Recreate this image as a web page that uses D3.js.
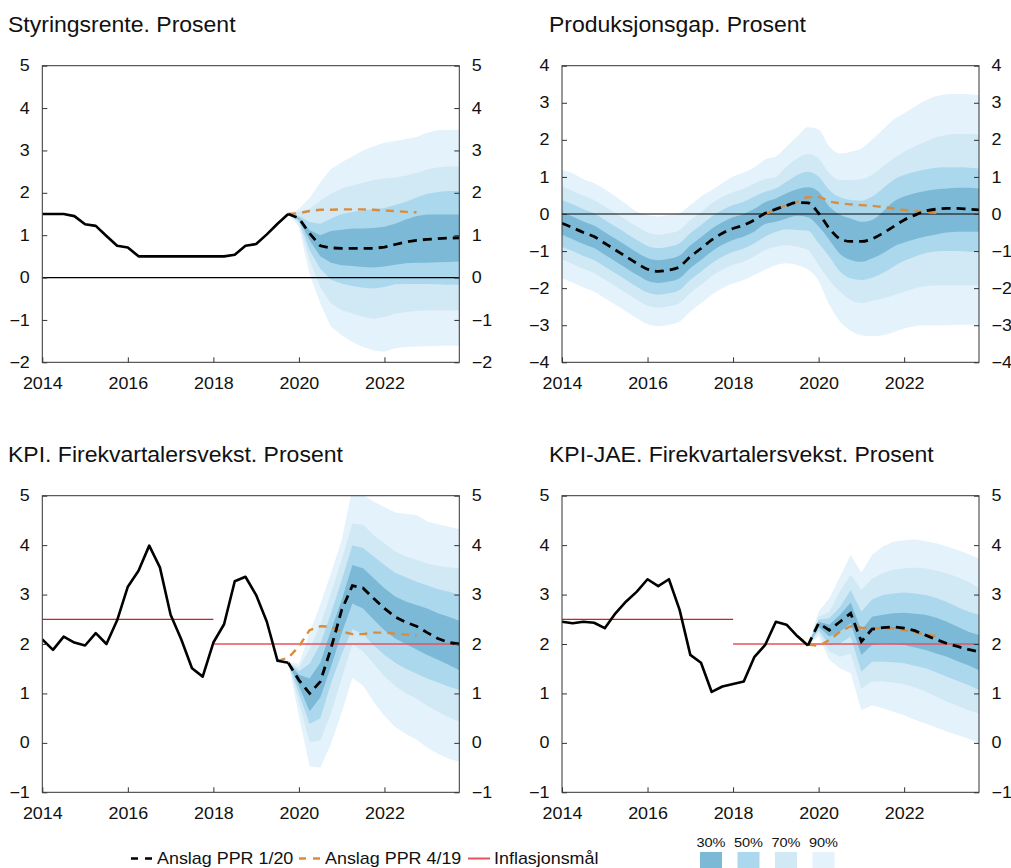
<!DOCTYPE html>
<html>
<head>
<meta charset="utf-8">
<script src="https://cdn.jsdelivr.net/npm/d3@7"></script>
<style>
  body { margin: 0; background: #fff; }
  svg text { font-family: "Liberation Sans", Arial, sans-serif; fill: #111; }
</style>
</head>
<body>
<div class="chart"></div>
<script>

// ===============================
// Data
// ===============================

const quarters = [
    "2014K1", "2014K2", "2014K3", "2014K4", "2015K1", "2015K2", "2015K3", "2015K4",
    "2016K1", "2016K2", "2016K3", "2016K4", "2017K1", "2017K2", "2017K3", "2017K4",
    "2018K1", "2018K2", "2018K3", "2018K4", "2019K1", "2019K2", "2019K3", "2019K4",
    "2020K1", "2020K2", "2020K3", "2020K4", "2021K1", "2021K2", "2021K3", "2021K4",
    "2022K1", "2022K2", "2022K3", "2022K4", "2023K1", "2023K2", "2023K3", "2023K4"
];

const yearTicks = [2014, 2016, 2018, 2020, 2022];

// Styringsrente (history from 2014K1, forecasts from 2019K4)
const rateHist = [1.5, 1.5, 1.5, 1.45, 1.26, 1.22, 0.98, 0.75, 0.71, 0.5, 0.5, 0.5,
    0.5, 0.5, 0.5, 0.5, 0.5, 0.5, 0.54, 0.75, 0.79, 1.02, 1.27, 1.5];
const rateMed = [1.5, 1.4, 1.04, 0.75, 0.7, 0.69, 0.69, 0.69, 0.69, 0.72, 0.78, 0.84, 0.88, 0.9, 0.92, 0.93, 0.94];
const rateOld = [1.5, 1.52, 1.57, 1.6, 1.6, 1.61, 1.61, 1.61, 1.6, 1.58, 1.57, 1.55, 1.54];
const rateHi90 = [1.5, 1.62, 1.88, 2.25, 2.56, 2.72, 2.86, 3.0, 3.1, 3.18, 3.22, 3.27, 3.32, 3.42, 3.48, 3.49, 3.48];
const rateHi70 = [1.5, 1.56, 1.62, 1.82, 1.98, 2.1, 2.17, 2.24, 2.3, 2.34, 2.36, 2.4, 2.47, 2.55, 2.6, 2.62, 2.62];
const rateHi50 = [1.5, 1.45, 1.31, 1.27, 1.39, 1.5, 1.55, 1.59, 1.61, 1.64, 1.71, 1.79, 1.89, 1.98, 2.02, 2.04, 2.04];
const rateHi30 = [1.5, 1.42, 1.12, 1.0, 1.1, 1.13, 1.16, 1.16, 1.17, 1.2, 1.27, 1.37, 1.45, 1.49, 1.49, 1.49, 1.49];
const rateLo30 = [1.5, 1.37, 0.88, 0.5, 0.35, 0.29, 0.27, 0.25, 0.24, 0.26, 0.3, 0.34, 0.35, 0.35, 0.36, 0.37, 0.38];
const rateLo50 = [1.5, 1.33, 0.65, 0.21, -0.05, -0.14, -0.2, -0.24, -0.26, -0.22, -0.16, -0.15, -0.15, -0.15, -0.16, -0.17, -0.17];
const rateLo70 = [1.5, 1.28, 0.41, -0.22, -0.61, -0.77, -0.85, -0.93, -0.97, -0.93, -0.85, -0.81, -0.79, -0.78, -0.77, -0.77, -0.77];
const rateLo90 = [1.5, 1.2, 0.09, -0.61, -1.16, -1.36, -1.52, -1.64, -1.72, -1.75, -1.67, -1.64, -1.63, -1.62, -1.61, -1.61, -1.61];

// Produksjonsgap (all from 2014K1, old forecast from 2018K4)
const gapMed = [-0.25, -0.37, -0.5, -0.61, -0.79, -0.97, -1.15, -1.33, -1.49, -1.55, -1.51, -1.42, -1.15, -0.93, -0.7, -0.52,
    -0.39, -0.3, -0.16, 0.02, 0.13, 0.23, 0.31, 0.3, 0.02, -0.39, -0.67, -0.74, -0.74, -0.67, -0.52, -0.34,
    -0.16, -0.03, 0.08, 0.13, 0.15, 0.15, 0.13, 0.11];
const gapOld = [0.0, 0.12, 0.24, 0.33, 0.45, 0.46, 0.34, 0.29, 0.26, 0.24, 0.22, 0.19, 0.15, 0.11, 0.08, 0.05, 0.03];
const gapHi90 = [1.19, 1.1, 0.94, 0.83, 0.67, 0.47, 0.27, 0.06, -0.03, -0.07, -0.03, 0.02, 0.24, 0.47, 0.65, 0.83,
    1.01, 1.12, 1.26, 1.47, 1.55, 1.82, 2.09, 2.34, 2.28, 1.82, 1.63, 1.68, 1.77, 2.0, 2.27, 2.54,
    2.72, 2.9, 3.06, 3.18, 3.23, 3.24, 3.23, 3.2];
const gapHi70 = [0.75, 0.62, 0.49, 0.38, 0.2, 0.02, -0.16, -0.34, -0.5, -0.56, -0.52, -0.43, -0.17, 0.05, 0.28, 0.46,
    0.59, 0.68, 0.82, 0.94, 1.0, 1.28, 1.5, 1.62, 1.5, 1.1, 0.92, 0.92, 0.94, 1.05, 1.28, 1.5,
    1.68, 1.82, 1.95, 2.07, 2.13, 2.16, 2.16, 2.13];
const gapHi50 = [0.38, 0.26, 0.13, 0.02, -0.16, -0.34, -0.52, -0.7, -0.86, -0.92, -0.88, -0.79, -0.52, -0.3, -0.07, 0.11,
    0.24, 0.33, 0.47, 0.6, 0.69, 0.87, 1.05, 1.14, 1.01, 0.65, 0.45, 0.38, 0.36, 0.47, 0.69, 0.92,
    1.05, 1.14, 1.2, 1.25, 1.26, 1.26, 1.25, 1.23];
const gapHi30 = [0.05, -0.07, -0.2, -0.31, -0.49, -0.67, -0.85, -1.03, -1.19, -1.25, -1.21, -1.12, -0.85, -0.63, -0.4, -0.22,
    -0.09, 0.0, 0.14, 0.32, 0.42, 0.56, 0.67, 0.72, 0.6, 0.2, -0.02, -0.12, -0.21, -0.16, 0.06, 0.33,
    0.47, 0.56, 0.62, 0.67, 0.69, 0.71, 0.71, 0.69];
const gapLo30 = [-0.56, -0.68, -0.81, -0.92, -1.1, -1.28, -1.46, -1.64, -1.8, -1.86, -1.82, -1.73, -1.46, -1.24, -1.01, -0.83,
    -0.7, -0.61, -0.47, -0.27, -0.21, -0.12, -0.05, -0.09, -0.34, -0.7, -1.08, -1.24, -1.29, -1.2, -1.06, -0.88,
    -0.77, -0.68, -0.61, -0.55, -0.5, -0.48, -0.48, -0.48];
const gapLo50 = [-0.88, -1.0, -1.13, -1.24, -1.42, -1.6, -1.78, -1.96, -2.12, -2.18, -2.14, -2.05, -1.78, -1.56, -1.33, -1.15,
    -1.02, -0.93, -0.79, -0.61, -0.48, -0.41, -0.43, -0.45, -0.79, -1.15, -1.55, -1.74, -1.78, -1.72, -1.59, -1.42,
    -1.26, -1.15, -1.05, -1.01, -1.0, -1.0, -1.02, -1.03];
const gapLo70 = [-1.23, -1.35, -1.48, -1.59, -1.77, -1.95, -2.13, -2.31, -2.47, -2.53, -2.49, -2.4, -2.13, -1.91, -1.68, -1.5,
    -1.37, -1.28, -1.14, -0.97, -0.88, -0.84, -0.88, -0.97, -1.38, -1.78, -2.09, -2.32, -2.4, -2.34, -2.28, -2.19,
    -2.1, -2.0, -1.95, -1.93, -1.92, -1.92, -1.92, -1.92];
const gapLo90 = [-1.73, -1.85, -1.98, -2.09, -2.27, -2.45, -2.63, -2.81, -2.97, -3.03, -2.99, -2.9, -2.63, -2.41, -2.18, -2.0,
    -1.87, -1.78, -1.64, -1.5, -1.38, -1.33, -1.38, -1.5, -1.8, -2.45, -2.9, -3.15, -3.27, -3.3, -3.27, -3.19,
    -3.09, -3.03, -3.0, -3.0, -3.0, -2.99, -2.99, -2.99];

// KPI (history from 2014K1, forecasts from 2019K4, old forecast from 2019K3)
const cpiHist = [2.09, 1.88, 2.15, 2.03, 1.97, 2.22, 2.0, 2.48, 3.16, 3.48, 3.99, 3.55,
    2.59, 2.09, 1.51, 1.34, 2.03, 2.4, 3.27, 3.36, 2.99, 2.45, 1.66, 1.62];
const cpiMed = [1.62, 1.27, 1.0, 1.24, 1.91, 2.69, 3.18, 3.13, 2.92, 2.72, 2.55, 2.44, 2.36, 2.23, 2.11, 2.03, 2.0];
const cpiOld = [1.66, 1.72, 1.95, 2.28, 2.36, 2.35, 2.25, 2.2, 2.2, 2.23, 2.23, 2.21, 2.19, 2.17];
const cpiHi90 = [1.62, 1.6, 2.22, 2.8, 3.43, 4.1, 5.15, 5.02, 4.88, 4.77, 4.66, 4.63, 4.61, 4.48, 4.42, 4.37, 4.32];
const cpiHi70 = [1.62, 1.52, 1.9, 2.38, 3.02, 3.7, 4.44, 4.41, 4.2, 4.04, 3.87, 3.77, 3.7, 3.63, 3.58, 3.55, 3.53];
const cpiHi50 = [1.62, 1.45, 1.6, 2.0, 2.62, 3.29, 4.0, 3.94, 3.77, 3.6, 3.44, 3.35, 3.26, 3.19, 3.11, 3.06, 2.99];
const cpiHi30 = [1.62, 1.38, 1.3, 1.62, 2.28, 2.89, 3.6, 3.53, 3.33, 3.13, 2.96, 2.86, 2.79, 2.72, 2.62, 2.55, 2.47];
const cpiLo30 = [1.62, 1.15, 0.64, 0.92, 1.54, 2.22, 2.82, 2.72, 2.49, 2.28, 2.11, 2.0, 1.89, 1.78, 1.68, 1.58, 1.47];
const cpiLo50 = [1.62, 1.0, 0.38, 0.5, 1.2, 1.8, 2.3, 2.2, 1.97, 1.78, 1.62, 1.5, 1.4, 1.3, 1.22, 1.14, 1.07];
const cpiLo70 = [1.62, 0.82, 0.02, 0.05, 0.6, 1.3, 2.0, 1.85, 1.6, 1.35, 1.15, 1.0, 0.9, 0.75, 0.63, 0.52, 0.43];
const cpiLo90 = [1.62, 0.55, -0.48, -0.5, -0.02, 0.62, 1.31, 1.16, 0.82, 0.55, 0.32, 0.18, 0.07, -0.1, -0.22, -0.32, -0.38];

// KPI-JAE (same periods as KPI)
const coreHist = [2.45, 2.42, 2.45, 2.43, 2.32, 2.62, 2.86, 3.06, 3.31, 3.17, 3.31, 2.69,
    1.78, 1.62, 1.03, 1.14, 1.19, 1.24, 1.74, 1.98, 2.45, 2.39, 2.16, 1.97];
const coreMed = [1.97, 2.42, 2.28, 2.45, 2.62, 2.05, 2.3, 2.33, 2.35, 2.32, 2.27, 2.18, 2.09, 2.01, 1.95, 1.89, 1.84];
const coreOld = [2.16, 1.99, 1.96, 2.08, 2.25, 2.36, 2.33, 2.32, 2.32, 2.32, 2.28, 2.24, 2.19, 2.16];
const coreHi90 = [1.97, 2.65, 2.92, 3.36, 3.8, 3.44, 3.8, 3.97, 4.07, 4.1, 4.12, 4.08, 4.04, 3.97, 3.9, 3.82, 3.73];
const coreHi70 = [1.97, 2.55, 2.65, 3.06, 3.4, 3.09, 3.32, 3.43, 3.5, 3.53, 3.54, 3.53, 3.48, 3.43, 3.35, 3.26, 3.13];
const coreHi50 = [1.97, 2.49, 2.52, 2.75, 3.09, 2.65, 2.9, 2.99, 3.02, 3.04, 3.02, 2.99, 2.93, 2.85, 2.75, 2.65, 2.59];
const coreHi30 = [1.97, 2.45, 2.39, 2.59, 2.84, 2.28, 2.55, 2.59, 2.62, 2.63, 2.61, 2.59, 2.53, 2.45, 2.35, 2.25, 2.18];
const coreLo30 = [1.97, 2.35, 2.15, 2.25, 2.42, 1.78, 1.98, 2.01, 2.0, 1.98, 1.93, 1.88, 1.81, 1.74, 1.65, 1.57, 1.47];
const coreLo50 = [1.97, 2.28, 1.98, 2.01, 2.15, 1.44, 1.64, 1.64, 1.63, 1.61, 1.56, 1.51, 1.43, 1.34, 1.25, 1.17, 1.07];
const coreLo70 = [1.97, 2.22, 1.85, 1.74, 1.81, 1.1, 1.24, 1.24, 1.22, 1.19, 1.12, 1.04, 0.94, 0.83, 0.75, 0.66, 0.6];
const coreLo90 = [1.97, 2.15, 1.68, 1.51, 1.41, 0.66, 0.76, 0.7, 0.63, 0.56, 0.47, 0.39, 0.31, 0.23, 0.16, 0.09, -0.01];

// Inflation targets: [from, to, value]
const targets = [["2014K1", "2018K1", 2.5], ["2018K1", "2023K4", 2.0]];

const legendLabels = ["Anslag PPR 1/20", "Anslag PPR 4/19", "Inflasjonsmål"];
const bandLabels = ["30%", "50%", "70%", "90%"];


// ===============================
// Layout and styles
// ===============================

const width = 1011;
const height = 868;
const SX = 1.12;            // the reference typeface is drawn a bit wide
const titleSX = 1.046;
const plotW = 417;
const plotH = 296.6;

const bandColors = ["#7cb9d6", "#acd8ee", "#d1e8f5", "#e3f2fb"];   // 30, 50, 70, 90
const black = "#000";
const orange = "#d98c3c";
const red = "#e8505e";
const darkRed = "#c8202e";

const toYear = q => +q.slice(0, 4) + (+q.slice(5) - 1) / 4;

const points = (start, values) => {
    const i0 = quarters.indexOf(start);
    return values.map((v, i) => ({ t: toYear(quarters[i0 + i]), v }));
};

const svg = d3.select(".chart")
    .append("svg")
    .attr("width", width)
    .attr("height", height);

// text drawn with a horizontal stretch, anchored at (x, y)
const stretchText = (sel, sx = SX) => sel.each(function () {
    const t = d3.select(this);
    const x = +t.attr("x") || 0;
    const y = +t.attr("y") || 0;
    t.attr("x", 0).attr("y", 0)
        .attr("transform", `translate(${x},${y}) scale(${sx},1)`);
});

const addText = (parent, x, y, txt, size, anchor = "start", sx = SX) =>
    parent.append("text")
        .attr("x", x)
        .attr("y", y)
        .attr("text-anchor", anchor)
        .style("font-size", size + "px")
        .text(txt)
        .call(stretchText, sx);


// ===============================
// Panel
// ===============================

let clipCount = 0;

const drawPanel = p => {

    const g = svg.append("g")
        .attr("transform", `translate(${p.left},${p.top})`);

    const x = d3.scaleLinear()
        .domain([2014, 2023.75])
        .range([0, plotW]);

    const y = d3.scaleLinear()
        .domain(p.yDomain)
        .range([plotH, 0]);

    const clipId = "clip" + (clipCount++);
    g.append("clipPath")
        .attr("id", clipId)
        .append("rect")
        .attr("width", plotW)
        .attr("height", plotH);

    const plot = g.append("g").attr("clip-path", `url(#${clipId})`);

    // fan, widest band first
    const bands = [
        [p.fan.lo90, p.fan.hi90, bandColors[3]],
        [p.fan.lo70, p.fan.hi70, bandColors[2]],
        [p.fan.lo50, p.fan.hi50, bandColors[1]],
        [p.fan.lo30, p.fan.hi30, bandColors[0]]
    ];

    bands.forEach(([lo, hi, color]) => {
        const lp = points(p.fan.start, lo);
        const hp = points(p.fan.start, hi);
        const pts = lp.map((d, i) => ({ t: d.t, lo: d.v, hi: hp[i].v }));

        plot.append("path")
            .datum(pts)
            .attr("fill", color)
            .attr("d", d3.area()
                .x(d => x(d.t))
                .y0(d => y(d.lo))
                .y1(d => y(d.hi))
                .curve(p.curve));
    });

    // zero line
    if (p.zero) {
        plot.append("line")
            .attr("x1", 0)
            .attr("x2", plotW)
            .attr("y1", y(0))
            .attr("y2", y(0))
            .attr("stroke", black)
            .attr("stroke-width", 1.2);
    }

    // inflation targets
    if (p.targets) {
        plot.selectAll(".target")
            .data(targets)
            .join("line")
            .attr("class", "target")
            .attr("x1", d => x(toYear(d[0])))
            .attr("x2", d => x(toYear(d[1])))
            .attr("y1", d => y(d[2]))
            .attr("y2", d => y(d[2]))
            .attr("stroke", (d, i) => i === 0 ? darkRed : red)
            .attr("stroke-width", (d, i) => i === 0 ? 1.2 : 1.6);
    }

    const line = d3.line()
        .x(d => x(d.t))
        .y(d => y(d.v))
        .curve(p.curve);

    // old forecast
    plot.append("path")
        .datum(points(p.old.start, p.old.values))
        .attr("fill", "none")
        .attr("stroke", orange)
        .attr("stroke-width", 2.4)
        .attr("stroke-dasharray", "8,6")
        .attr("d", line);

    // new forecast
    plot.append("path")
        .datum(points(p.med.start, p.med.values))
        .attr("fill", "none")
        .attr("stroke", black)
        .attr("stroke-width", 2.8)
        .attr("stroke-dasharray", "9,6")
        .attr("d", line);

    // history
    if (p.hist) {
        plot.append("path")
            .datum(points("2014K1", p.hist))
            .attr("fill", "none")
            .attr("stroke", black)
            .attr("stroke-width", 2.6)
            .attr("stroke-linejoin", "round")
            .attr("d", line);
    }

    // axes
    const yTicks = d3.range(p.yDomain[0], p.yDomain[1] + 1);
    const fmt = d3.format("d");

    const styleAxis = sel => {
        sel.select(".domain").remove();
        sel.selectAll(".tick line").attr("stroke", "#333");
        sel.selectAll("text")
            .style("font-size", "16px")
            .attr("fill", "#111")
            .call(stretchText);
    };

    g.append("g")
        .call(d3.axisLeft(y).tickValues(yTicks).tickFormat(fmt).tickSize(-5).tickPadding(12.5))
        .call(styleAxis);

    g.append("g")
        .attr("transform", `translate(${plotW},0)`)
        .call(d3.axisRight(y).tickValues(yTicks).tickFormat(fmt).tickSize(-5).tickPadding(12.5))
        .call(styleAxis);

    g.append("g")
        .attr("transform", `translate(0,${plotH})`)
        .call(d3.axisBottom(x).tickValues(yearTicks).tickFormat(fmt).tickSize(-5).tickPadding(15.7))
        .call(styleAxis);

    // frame
    g.append("rect")
        .attr("width", plotW)
        .attr("height", plotH)
        .attr("fill", "none")
        .attr("stroke", "#333")
        .attr("stroke-width", 1);

    // title
    addText(svg, p.left - p.titleShift, p.top - 33.7, p.title, 22, "start", titleSX);
};


// ===============================
// Draw the four panels
// ===============================

drawPanel({
    left: 42.3, top: 65.7, titleShift: 34.3,
    title: "Styringsrente. Prosent",
    yDomain: [-2, 5],
    curve: d3.curveLinear,
    zero: true,
    hist: rateHist,
    med: { start: "2019K4", values: rateMed },
    old: { start: "2019K4", values: rateOld },
    fan: {
        start: "2019K4",
        hi90: rateHi90, hi70: rateHi70, hi50: rateHi50, hi30: rateHi30,
        lo30: rateLo30, lo50: rateLo50, lo70: rateLo70, lo90: rateLo90
    }
});

drawPanel({
    left: 562, top: 65.7, titleShift: 13,
    title: "Produksjonsgap. Prosent",
    yDomain: [-4, 4],
    curve: d3.curveMonotoneX,
    zero: true,
    med: { start: "2014K1", values: gapMed },
    old: { start: "2018K4", values: gapOld },
    fan: {
        start: "2014K1",
        hi90: gapHi90, hi70: gapHi70, hi50: gapHi50, hi30: gapHi30,
        lo30: gapLo30, lo50: gapLo50, lo70: gapLo70, lo90: gapLo90
    }
});

drawPanel({
    left: 42.3, top: 495.7, titleShift: 34.3,
    title: "KPI. Firekvartalersvekst. Prosent",
    yDomain: [-1, 5],
    curve: d3.curveLinear,
    targets: true,
    hist: cpiHist,
    med: { start: "2019K4", values: cpiMed },
    old: { start: "2019K3", values: cpiOld },
    fan: {
        start: "2019K4",
        hi90: cpiHi90, hi70: cpiHi70, hi50: cpiHi50, hi30: cpiHi30,
        lo30: cpiLo30, lo50: cpiLo50, lo70: cpiLo70, lo90: cpiLo90
    }
});

drawPanel({
    left: 562, top: 495.7, titleShift: 13,
    title: "KPI-JAE. Firekvartalersvekst. Prosent",
    yDomain: [-1, 5],
    curve: d3.curveLinear,
    targets: true,
    hist: coreHist,
    med: { start: "2019K4", values: coreMed },
    old: { start: "2019K3", values: coreOld },
    fan: {
        start: "2019K4",
        hi90: coreHi90, hi70: coreHi70, hi50: coreHi50, hi30: coreHi30,
        lo30: coreLo30, lo50: coreLo50, lo70: coreLo70, lo90: coreLo90
    }
});


// ===============================
// Legend
// ===============================

const legend = svg.append("g");

const legendItems = [
    { x: 131, label: legendLabels[0], color: black, dash: "7,7", w: 2.6 },
    { x: 299, label: legendLabels[1], color: orange, dash: "7,7", w: 2.4 },
    { x: 468, label: legendLabels[2], color: red, dash: null, w: 2 }
];

legendItems.forEach(d => {
    legend.append("line")
        .attr("x1", d.x)
        .attr("x2", d.x + 22)
        .attr("y1", 858.5)
        .attr("y2", 858.5)
        .attr("stroke", d.color)
        .attr("stroke-width", d.w)
        .attr("stroke-dasharray", d.dash);

    addText(legend, d.x + 26, 864.3, d.label, 16);
});

bandLabels.forEach((lab, i) => {
    const bx = 700 + i * 37.5;

    legend.append("rect")
        .attr("x", bx)
        .attr("y", 852)
        .attr("width", 22)
        .attr("height", 18)
        .attr("fill", bandColors[i]);

    addText(legend, bx + 11, 846.5, lab, 13, "middle");
});

</script>
</body>
</html>
